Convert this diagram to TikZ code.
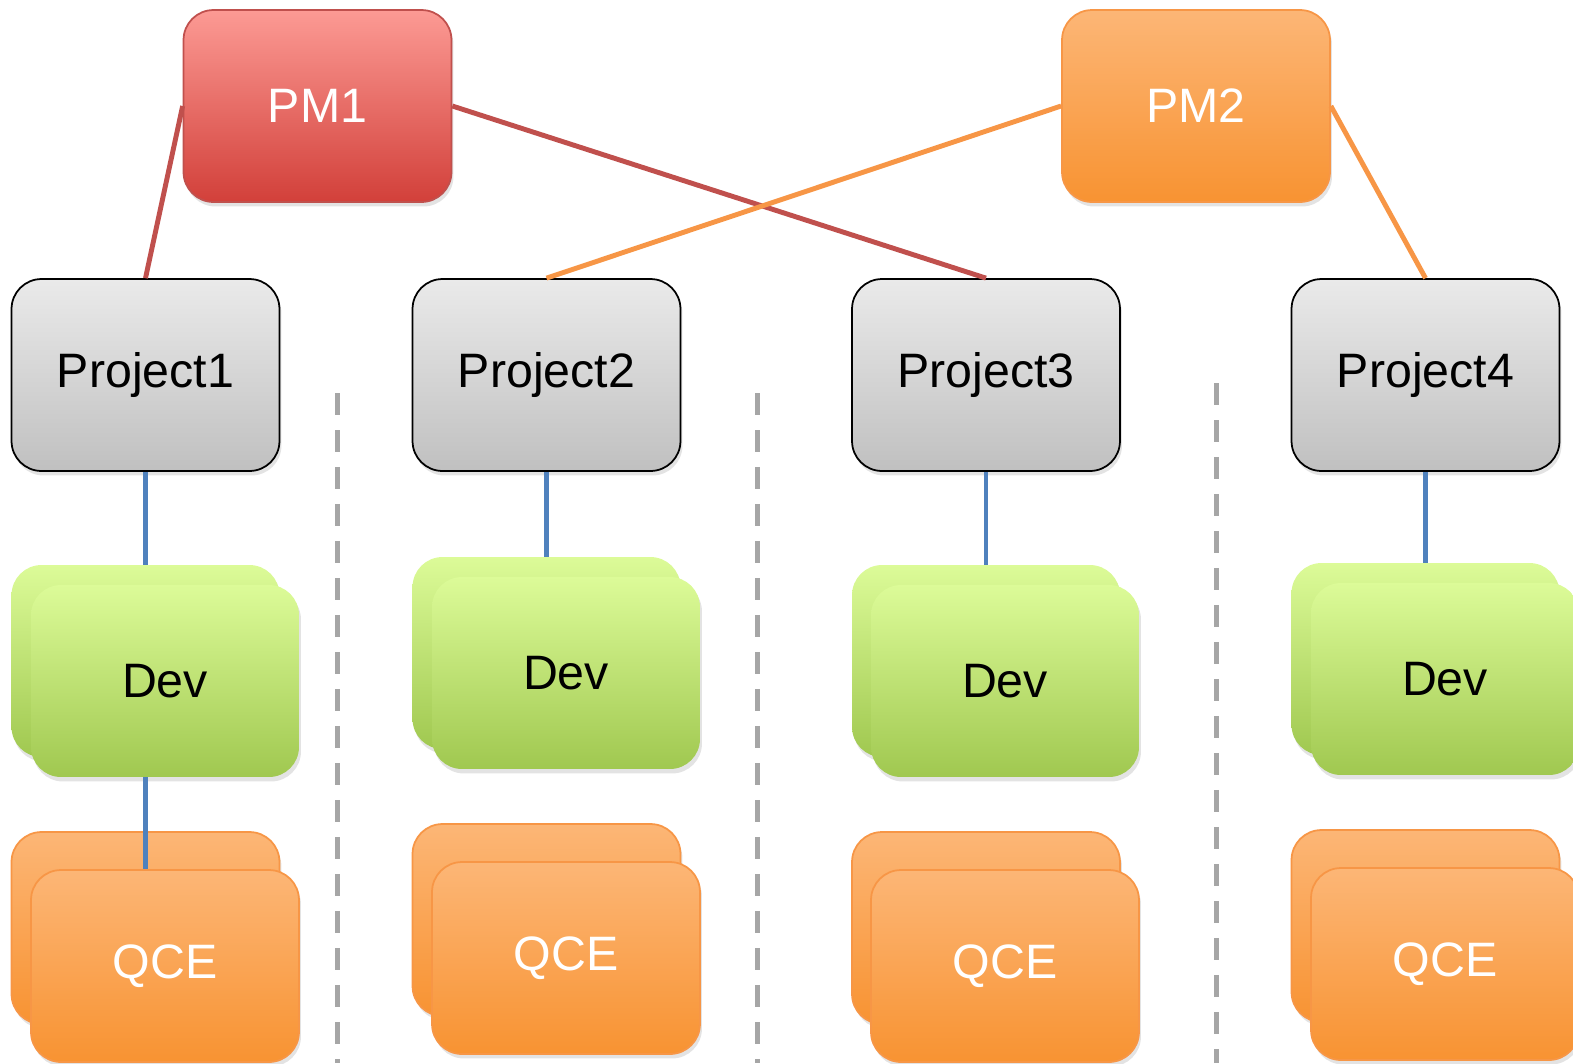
\documentclass[tikz,border=0pt]{standalone}
\usepackage{fontspec}
\setmainfont{Liberation Sans}
\usetikzlibrary{shadows}

\definecolor{pmonetop}{RGB}{252,154,148}
\definecolor{pmonebot}{RGB}{210,64,58}
\definecolor{pmoneline}{RGB}{192,80,77}
\definecolor{orangetop}{RGB}{252,182,118}
\definecolor{orangebot}{RGB}{248,147,50}
\definecolor{orangeline}{RGB}{247,150,70}
\definecolor{devtop}{RGB}{220,251,152}
\definecolor{devbot}{RGB}{160,200,80}
\definecolor{projtop}{RGB}{234,234,234}
\definecolor{projbot}{RGB}{192,192,192}
\definecolor{linkblue}{RGB}{79,129,189}
\definecolor{sepgray}{RGB}{166,166,166}

\begin{document}
\begin{tikzpicture}[x=0.02cm,y=-0.02cm,font=\fontsize{27.5}{31}\selectfont]
    \tikzstyle{box}=[rectangle,rounded corners=0.6cm,minimum width=5.36cm,minimum height=3.84cm,inner sep=0,
        drop shadow={opacity=0.22,shadow xshift=0.04cm,shadow yshift=-0.09cm}]
    \tikzstyle{pm red}=[box,draw=pmoneline,line width=1pt,top color=pmonetop,bottom color=pmonebot,text=white]
    \tikzstyle{pm orange}=[box,draw=orangeline,line width=1pt,top color=orangetop,bottom color=orangebot,text=white]
    \tikzstyle{project node}=[box,draw=black,line width=1pt,top color=projtop,bottom color=projbot]
    \tikzstyle{dev node}=[box,top color=devtop,bottom color=devbot]
    \tikzstyle{qce node}=[box,draw=orangeline,line width=1pt,top color=orangetop,bottom color=orangebot,text=white]
    \tikzstyle{pm link}=[line width=2.8pt]
    \tikzstyle{team link}=[line width=2.8pt,draw=linkblue]
    \tikzstyle{separator}=[line width=0.1cm,draw=sepgray,dash pattern=on 0.44cm off 0.3cm]

    \useasboundingbox (0,0) rectangle (1573,1063);

    % managers
    \node(pm1)[pm red] at (317.5,106) {PM1};
    \node(pm2)[pm orange] at (1196,106) {PM2};

    % projects
    \node(p1)[project node] at (145.5,375) {Project1};
    \node(p2)[project node] at (546.5,375) {Project2};
    \node(p3)[project node] at (986,375) {Project3};
    \node(p4)[project node] at (1425.5,375) {Project4};

    % dev teams (two cards each)
    \node(d1b)[dev node] at (145.5,661) {};
    \node(d1)[dev node] at (165,681) {Dev};
    \node(d2b)[dev node] at (546.5,653) {};
    \node(d2)[dev node] at (566,673) {Dev};
    \node(d3b)[dev node] at (986,661) {};
    \node(d3)[dev node] at (1005,681) {Dev};
    \node(d4b)[dev node] at (1425.5,659) {};
    \node(d4)[dev node] at (1445,679) {Dev};

    % qce teams
    \node(q1b)[qce node] at (145.5,928) {};
    \node(q1)[qce node] at (165,966) {QCE};
    \node(q2b)[qce node] at (546.5,920) {};
    \node(q2)[qce node] at (566,958) {QCE};
    \node(q3b)[qce node] at (986,928) {};
    \node(q3)[qce node] at (1005,966) {QCE};
    \node(q4b)[qce node] at (1425.5,926) {};
    \node(q4)[qce node] at (1445,964) {QCE};

    % links
    \draw[pm link,pmoneline] (pm1.west) -- (p1.north);
    \draw[pm link,pmoneline] (pm1.east) -- (p3.north);
    \draw[pm link,orangeline] (pm2.west) -- (p2.north);
    \draw[pm link,orangeline] (pm2.east) -- (p4.north);
    \draw[team link] (p1.south) -- (d1b.north);
    \draw[team link] (p2.south) -- (d2b.north);
    \draw[team link] (p3.south) -- (d3b.north);
    \draw[team link] (p4.south) -- (d4b.north);
    \draw[team link] (d1b.south |- d1.south) -- (q1b.north |- q1.north);

    % column separators
    \draw[separator] (337,393) -- (337,1063);
    \draw[separator] (757,393) -- (757,1063);
    \draw[separator] (1216,383) -- (1216,1063);
\end{tikzpicture}
\end{document}
